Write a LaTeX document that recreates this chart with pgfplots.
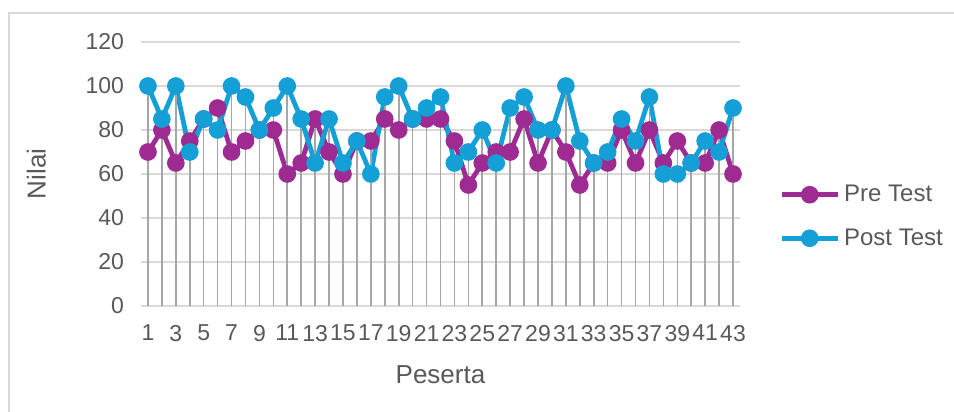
\documentclass[border=0pt]{standalone}
\usepackage{pgfplots}
\usepackage{pgfplotstable}
\pgfplotsset{compat=1.18}
\usepackage{fontspec}
\setmainfont{Liberation Sans}
\definecolor{preC}{RGB}{158,43,146}
\definecolor{postC}{RGB}{20,160,214}
\definecolor{txtC}{RGB}{89,89,89}
\definecolor{gridC}{RGB}{217,217,217}
\definecolor{dropC}{RGB}{166,166,166}
\pgfplotstableread{
x pre post mx
1 70 100 100
2 80 85 85
3 65 100 100
4 75 70 75
5 85 85 85
6 90 80 90
7 70 100 100
8 75 95 95
9 80 80 80
10 80 90 90
11 60 100 100
12 65 85 85
13 85 65 85
14 70 85 85
15 60 65 65
16 75 75 75
17 75 60 75
18 85 95 95
19 80 100 100
20 85 85 85
21 85 90 90
22 85 95 95
23 75 65 75
24 55 70 70
25 65 80 80
26 70 65 70
27 70 90 90
28 85 95 95
29 65 80 80
30 80 80 80
31 70 100 100
32 55 75 75
33 65 65 65
34 65 70 70
35 80 85 85
36 65 75 75
37 80 95 95
38 65 60 65
39 75 60 75
40 65 65 65
41 65 75 75
42 80 70 80
43 60 90 90
}\datatable
\begin{document}
\begin{tikzpicture}
\useasboundingbox (0,0) rectangle (477pt,206pt);
\draw[gridC,line width=0.8pt] (4.5pt,0pt) -- (4.5pt,199.5pt) -- (477pt,199.5pt);
\begin{axis}[
  at={(70.5pt,53pt)}, anchor=south west,
  scale only axis, width=299.5pt, height=132pt,
  xmin=0.5, xmax=43.5, ymin=0, ymax=120,
  xtick={1,3,...,43}, ytick={0,20,...,120},
  major tick length=0pt,
  axis line style={draw=none},
  axis x line*=bottom,
  ymajorgrids, grid style={gridC,line width=0.8pt},
  tick label style={font=\fontsize{11.5}{13}\selectfont, text=txtC},
  /pgf/number format/assume math mode=true,
  yticklabel style={xshift=-5pt},
  xticklabel style={yshift=-6pt, inner xsep=0pt},
  xlabel={Peserta}, ylabel={Nilai},
  label style={font=\fontsize{13}{15}\selectfont, text=txtC},
  xlabel style={yshift=-5.5pt},
  ylabel style={yshift=13pt},
  clip=false,
  legend style={at={(1.065,0.339)}, anchor=west, draw=none, fill=none,
    font=\fontsize{12}{14}\selectfont, text=txtC, inner xsep=0pt,
    row sep=8pt, legend cell align=left},
  legend image code/.code={\draw[mark repeat=2,mark phase=2,#1] plot coordinates {(0pt,0pt) (14pt,0pt) (28pt,0pt)};},
]
\draw[gridC,line width=0.8pt] (axis cs:0.5,0) -- (axis cs:43.5,0);
\addplot[preC, line width=2.4pt, mark=*, mark size=3.2pt, mark options={solid}] table[x=x,y=pre] {\datatable};
\addlegendentry{Pre Test}
\addplot[postC, line width=2.4pt, mark=*, mark size=3.2pt, mark options={solid}] table[x=x,y=post] {\datatable};
\addlegendentry{Post Test}
\addplot[ycomb, dropC, line width=0.8pt, forget plot] table[x=x,y=mx] {\datatable};
\end{axis}
\end{tikzpicture}
\end{document}
